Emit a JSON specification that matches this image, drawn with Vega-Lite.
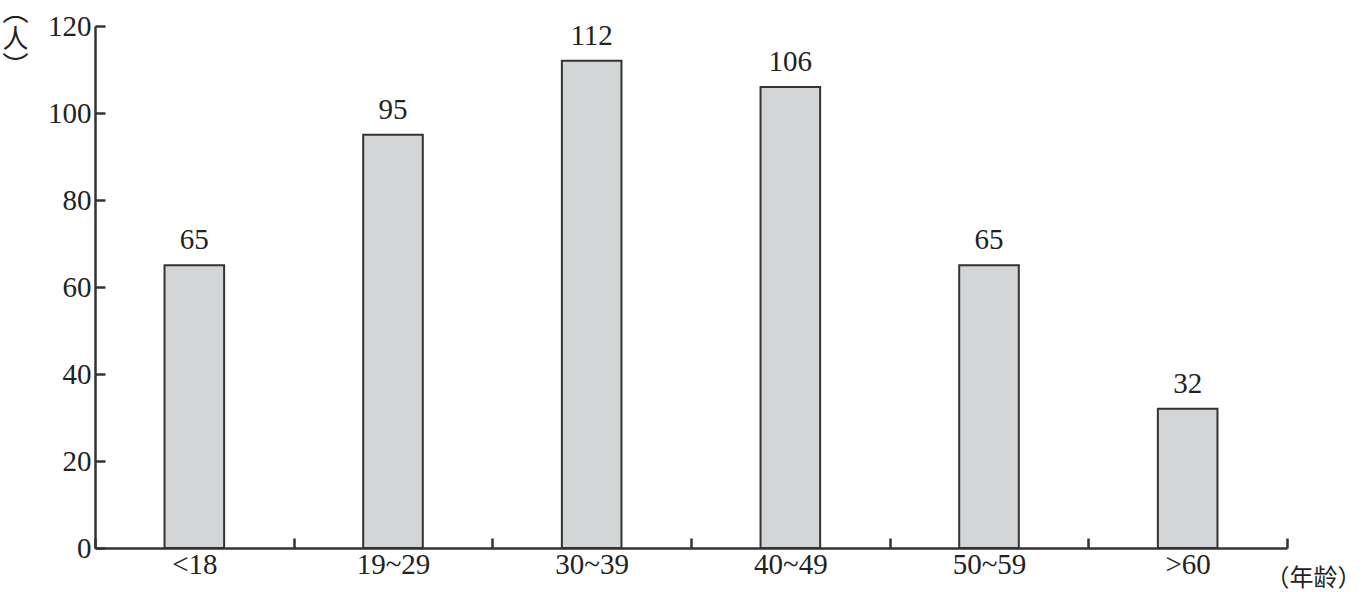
{
  "$schema": "https://vega.github.io/schema/vega-lite/v6.json",
  "autosize": {"type": "none"},
  "width": 1192,
  "height": 522,
  "padding": {"left": 95, "top": 26, "right": 77, "bottom": 44},
  "background": "white",
  "config": {
    "view": {"stroke": null},
    "font": "Liberation Serif",
    "axis": {
      "domainColor": "#333333",
      "domainWidth": 2.5,
      "tickColor": "#333333",
      "tickWidth": 2.5,
      "labelColor": "#222222",
      "labelFont": "Liberation Serif",
      "labelFontSize": 29,
      "grid": false
    }
  },
  "data": {
    "values": [
      {"age": "<18", "count": 65},
      {"age": "19~29", "count": 95},
      {"age": "30~39", "count": 112},
      {"age": "40~49", "count": 106},
      {"age": "50~59", "count": 65},
      {"age": ">60", "count": 32}
    ]
  },
  "encoding": {
    "x": {
      "field": "age",
      "type": "nominal",
      "sort": null,
      "scale": {"paddingInner": 0, "paddingOuter": 0},
      "axis": {
        "labelAngle": 0,
        "tickBand": "extent",
        "tickSize": -10,
        "labelPadding": 12,
        "title": "（年龄）",
        "titleFont": "Noto Sans CJK SC",
        "titleFontSize": 24,
        "titleFontWeight": "normal",
        "titleColor": "#222222",
        "titleAnchor": "start",
        "titleAlign": "center",
        "titleBaseline": "middle",
        "titleX": 1218,
        "titleY": 30
      }
    },
    "y": {
      "field": "count",
      "type": "quantitative",
      "scale": {"domain": [0, 120]},
      "axis": {
        "values": [0, 20, 40, 60, 80, 100, 120],
        "tickSize": -10,
        "labelPadding": 14,
        "title": ["︵", "人", "︶"],
        "titleFont": "Noto Sans CJK SC",
        "titleFontSize": 26,
        "titleFontWeight": "normal",
        "titleColor": "#222222",
        "titleAngle": 0,
        "titleAlign": "center",
        "titleBaseline": "middle",
        "titleLineHeight": 27,
        "titleAnchor": "start",
        "titleX": -80,
        "titleY": -14
      }
    }
  },
  "layer": [
    {
      "mark": {"type": "bar", "width": {"band": 0.3}, "fill": "#d4d5d7", "stroke": "#333333", "strokeWidth": 2}
    },
    {
      "mark": {"type": "text", "baseline": "alphabetic", "dy": -16, "fontSize": 29, "font": "Liberation Serif", "color": "#222222"},
      "encoding": {"text": {"field": "count", "type": "quantitative"}}
    }
  ]
}
